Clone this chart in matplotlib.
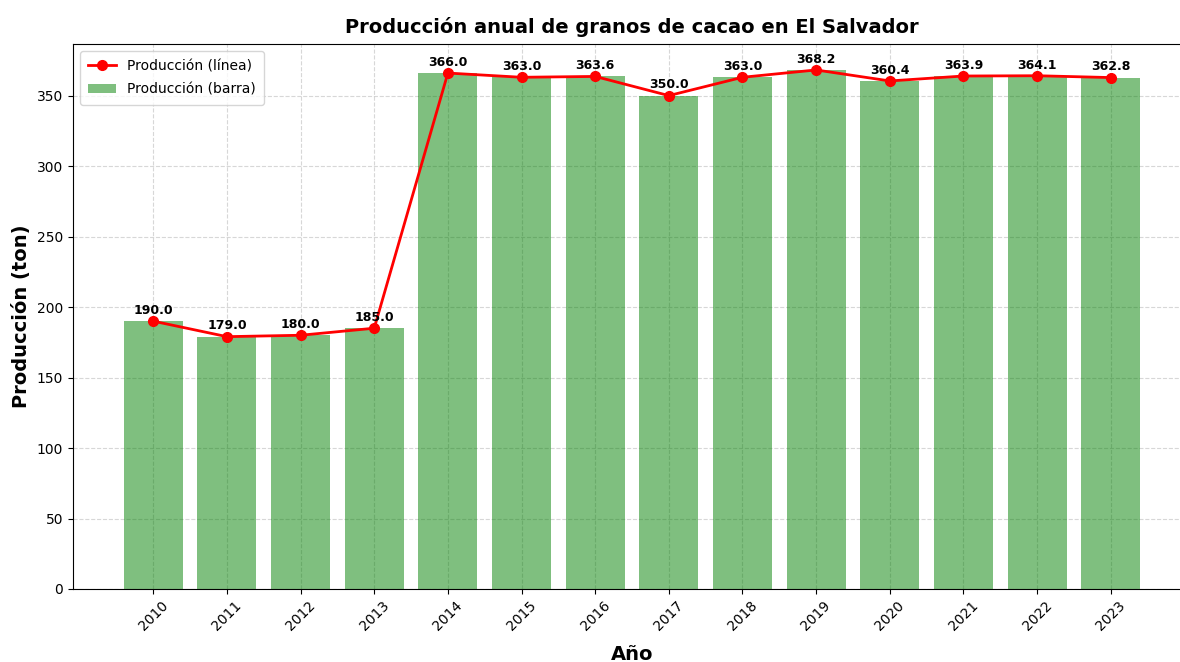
import matplotlib
matplotlib.use("Agg")
import matplotlib.pyplot as plt
import numpy as np

years = [2010, 2011, 2012, 2013, 2014, 2015, 2016, 2017, 2018, 2019, 2020, 2021, 2022, 2023]
production = [190.0, 179.0, 180.0, 185.0, 366.0, 363.0, 363.6, 350.0, 363.0, 368.2, 360.4, 363.9, 364.1, 362.8]

plt.rcParams['font.family'] = ['DejaVu Sans']

fig = plt.figure(figsize=(11.8, 6.62), dpi=100)
ax = fig.add_axes([73/1180, 1 - 589/662, (1191 - 73)/1180, (589 - 44)/662])

ax.bar(years, production, width=0.8, color='green', alpha=0.5, label='Producción (barra)')
ax.plot(years, production, color='red', marker='o', linewidth=2, markersize=7, label='Producción (línea)')

for x, y in zip(years, production):
    ax.annotate(f"{y:.1f}", (x, y), textcoords='offset points', xytext=(0, 3),
                ha='center', va='bottom', fontsize=9, fontweight='bold')

ax.set_ylim(0, max(production) * 1.05)
ax.set_xticks(years)
ax.set_xticklabels([str(y) for y in years], rotation=45)
ax.grid(True, linestyle='--', alpha=0.5)
ax.set_axisbelow(True)
ax.set_title('Producción anual de granos de cacao en El Salvador', fontsize=14, fontweight='bold', pad=8)
ax.set_xlabel('Año', fontsize=14, fontweight='bold', labelpad=8)
ax.set_ylabel('Producción (ton)', fontsize=14, fontweight='bold')
ax.legend(loc='upper left', labelspacing=0.65, borderpad=0.6)

fig.savefig('out.png', dpi=100)
